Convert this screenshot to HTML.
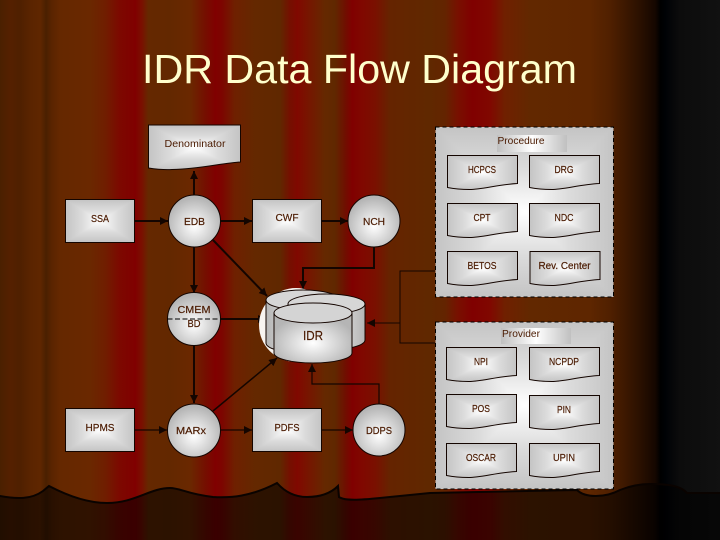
<!DOCTYPE html>
<html><head><meta charset="utf-8"><style>
html,body{margin:0;padding:0;background:#000}
svg{display:block}
text{font-family:"Liberation Sans",sans-serif}
.l{font-size:10.5px;fill:#4a1a00;stroke:#4a1a00;stroke-width:.2;text-anchor:middle}
.c{stroke:#140500;fill:none;stroke-width:2}
.t{stroke:#140500;fill:none;stroke-width:1}
</style></head><body>
<svg width="720" height="540" viewBox="0 0 720 540" xmlns="http://www.w3.org/2000/svg">
<defs>
<linearGradient id="bg" gradientUnits="userSpaceOnUse" x1="0" y1="0" x2="720" y2="0">
<stop offset="0" stop-color="#4a2000"/><stop offset=".014" stop-color="#552000"/><stop offset=".028" stop-color="#4f2000"/><stop offset=".042" stop-color="#5a2400"/>
<stop offset=".056" stop-color="#5f2600"/><stop offset=".064" stop-color="#4a2000"/><stop offset=".072" stop-color="#5a2400"/><stop offset=".083" stop-color="#652800"/>
<stop offset=".125" stop-color="#6a2800"/><stop offset=".146" stop-color="#701e00"/><stop offset=".167" stop-color="#7d0800"/><stop offset=".188" stop-color="#800000"/>
<stop offset=".197" stop-color="#7a1000"/><stop offset=".206" stop-color="#652800"/><stop offset=".236" stop-color="#632800"/><stop offset=".264" stop-color="#6a2800"/>
<stop offset=".285" stop-color="#750f00"/><stop offset=".299" stop-color="#800000"/><stop offset=".308" stop-color="#7d0500"/><stop offset=".326" stop-color="#6f2000"/>
<stop offset=".354" stop-color="#642800"/><stop offset=".389" stop-color="#602800"/><stop offset=".403" stop-color="#750f00"/><stop offset=".413" stop-color="#800800"/>
<stop offset=".424" stop-color="#7a1200"/><stop offset=".451" stop-color="#652800"/><stop offset=".465" stop-color="#602800"/><stop offset=".479" stop-color="#6f1000"/>
<stop offset=".489" stop-color="#800000"/><stop offset=".503" stop-color="#800800"/><stop offset=".521" stop-color="#7a1000"/><stop offset=".542" stop-color="#652400"/>
<stop offset=".597" stop-color="#602800"/><stop offset=".618" stop-color="#632400"/><stop offset=".636" stop-color="#781000"/><stop offset=".656" stop-color="#800000"/>
<stop offset=".681" stop-color="#800800"/><stop offset=".701" stop-color="#702000"/><stop offset=".736" stop-color="#622800"/><stop offset=".819" stop-color="#5e2600"/>
<stop offset=".847" stop-color="#502000"/><stop offset=".889" stop-color="#2a1000"/><stop offset=".91" stop-color="#150700"/><stop offset=".917" stop-color="#000"/>
<stop offset=".924" stop-color="#000205"/><stop offset=".944" stop-color="#0c0c0c"/><stop offset="1" stop-color="#111"/>
</linearGradient>
<linearGradient id="h"><stop offset="0" stop-color="#c0c0c0"/><stop offset=".5" stop-color="#fff"/><stop offset="1" stop-color="#c0c0c0"/></linearGradient>
<linearGradient id="gt" x1="0" y1="0" x2="0" y2="1"><stop offset="0" stop-color="#c4c4c4"/><stop offset=".5" stop-color="#dcdcdc"/><stop offset="1" stop-color="#fff"/></linearGradient>
<linearGradient id="gb" x1="0" y1="1" x2="0" y2="0"><stop offset="0" stop-color="#c4c4c4"/><stop offset=".5" stop-color="#dcdcdc"/><stop offset="1" stop-color="#fff"/></linearGradient>
<linearGradient id="gl" x1="0" y1="0" x2="1" y2="0"><stop offset="0" stop-color="#c4c4c4"/><stop offset=".5" stop-color="#dcdcdc"/><stop offset="1" stop-color="#fff"/></linearGradient>
<linearGradient id="gr" x1="1" y1="0" x2="0" y2="0"><stop offset="0" stop-color="#c4c4c4"/><stop offset=".5" stop-color="#dcdcdc"/><stop offset="1" stop-color="#fff"/></linearGradient>
<linearGradient id="cy"><stop offset="0" stop-color="#b5b5b5"/><stop offset=".5" stop-color="#f4f4f4"/><stop offset="1" stop-color="#b5b5b5"/></linearGradient>
<radialGradient id="cr" cx=".5" cy=".6" r=".55"><stop offset="0" stop-color="#fff"/><stop offset="1" stop-color="#b5b5b5"/></radialGradient>
<marker id="a" markerUnits="userSpaceOnUse" markerWidth="10" markerHeight="10" refX="8" refY="4" orient="auto"><path d="M0,0L8,4L0,8Z" fill="#140500"/></marker>
<symbol id="py" viewBox="0 0 2 2" preserveAspectRatio="none" overflow="visible">
<g shape-rendering="crispEdges"><polygon points="0,0 2,0 1,1" fill="url(#gt)"/><polygon points="0,2 2,2 1,1" fill="url(#gb)"/><polygon points="0,0 0,2 1,1" fill="url(#gl)"/><polygon points="2,0 2,2 1,1" fill="url(#gr)"/></g>
</symbol>
<path id="dp" d="M0,0H70V28C50,29 35,34 22,34C12,34 5,33 0,32Z"/>
<clipPath id="dc"><use href="#dp"/></clipPath>
<g id="doc"><g clip-path="url(#dc)"><use href="#py" width="70" height="34"/></g><use href="#dp" fill="none" stroke="#140500" stroke-width="1"/></g>
<g id="box"><use href="#py" width="69" height="43"/><rect width="69" height="43" fill="none" stroke="#140500" stroke-width="1"/></g>
<path id="dn" d="M148.5,125H240.5V162C222,163 200,169 172,169.5C162,170 155,169 148.5,168Z"/>
<clipPath id="dnc"><use href="#dn"/></clipPath>
</defs>

<rect width="720" height="540" fill="url(#bg)"/>
<path d="M-5,495C18,500 32,499 43,491L49,486C70,497 90,503 107,503C135,503 150,488 170,488C180,488 187,494 213,497C230,498 250,497 277,483C285,492 295,497 307,497C320,497 330,494 338,486L339,497C345,501 360,500 380,498L430,493L577,490C585,498 605,498 620,490C630,486 640,484 650,484C665,484 680,485 687,493L725,493V545H-5Z" fill="#000" fill-opacity=".55" stroke="#0a0300" stroke-width="2"/>

<!-- thin bracket -->
<path class="t" d="M435,271H400V343H435"/>
<path class="t" d="M400,323H367" marker-end="url(#a)"/>

<!-- connectors -->
<path class="c" d="M134,221H168" marker-end="url(#a)"/>
<path class="c" d="M194,195V171" marker-end="url(#a)"/>
<path class="c" d="M221,221H252" marker-end="url(#a)"/>
<path class="c" d="M322,221H348" marker-end="url(#a)"/>
<path class="c" d="M194,247V293" marker-end="url(#a)"/>
<path class="c" d="M213,240L267,296" marker-end="url(#a)"/>
<path class="c" d="M374,247V268H303V289" marker-end="url(#a)"/>
<path class="c" d="M221,319H266" marker-end="url(#a)"/>
<path class="c" d="M194,346V403" marker-end="url(#a)"/>
<path class="t" style="stroke-width:1.5" d="M213,411L277,358" marker-end="url(#a)"/>
<path class="t" style="stroke-width:1.2" d="M134,430H167" marker-end="url(#a)"/>
<path class="t" style="stroke-width:1.2" d="M221,430H252" marker-end="url(#a)"/>
<path class="t" style="stroke-width:1.2" d="M322,430H353" marker-end="url(#a)"/>
<path class="t" style="stroke-width:1.2" d="M379,404V384H312V364" marker-end="url(#a)"/>

<!-- Denominator -->
<g clip-path="url(#dnc)"><use href="#py" x="148.5" y="125" width="92" height="45"/></g>
<use href="#dn" fill="none" stroke="#140500"/>
<text class="l" style="stroke-width:0" x="195" y="147" textLength="61" lengthAdjust="spacingAndGlyphs">Denominator</text>

<!-- boxes -->
<use href="#box" x="65.5" y="199.5"/><text class="l" x="100" y="222" textLength="18" lengthAdjust="spacingAndGlyphs">SSA</text>
<use href="#box" x="252.5" y="199.5"/><text class="l" x="287" y="221" textLength="23" lengthAdjust="spacingAndGlyphs">CWF</text>
<use href="#box" x="65.5" y="408.5"/><text class="l" x="100" y="431" textLength="29" lengthAdjust="spacingAndGlyphs">HPMS</text>
<use href="#box" x="252.5" y="408.5"/><text class="l" x="287" y="431" textLength="25" lengthAdjust="spacingAndGlyphs">PDFS</text>

<!-- circles -->
<circle cx="194.5" cy="221" r="26" fill="url(#cr)" stroke="#140500"/><text class="l" x="194.5" y="225" textLength="21" lengthAdjust="spacingAndGlyphs">EDB</text>
<circle cx="374" cy="221" r="26" fill="url(#cr)" stroke="#140500"/><text class="l" x="374" y="225" textLength="22" lengthAdjust="spacingAndGlyphs">NCH</text>
<circle cx="194" cy="319" r="26.5" fill="url(#cr)" stroke="#140500"/>
<path d="M167.5,319H220.5" stroke="#000" stroke-dasharray="5 2.5" fill="none"/>
<text class="l" x="194" y="313" textLength="33" lengthAdjust="spacingAndGlyphs">CMEM</text><text class="l" x="194" y="327" textLength="13" lengthAdjust="spacingAndGlyphs">BD</text>
<circle cx="194" cy="430.5" r="26.5" fill="url(#cr)" stroke="#140500"/><text class="l" x="191" y="434" textLength="30" lengthAdjust="spacingAndGlyphs">MARx</text>
<circle cx="379" cy="430" r="26" fill="url(#cr)" stroke="#140500"/><text class="l" x="379" y="434" textLength="26" lengthAdjust="spacingAndGlyphs">DDPS</text>

<!-- IDR -->
<circle cx="296" cy="325" r="37" fill="#f8f4f0"/>
<path d="M266,300V343A37,10 0 0 0 340,343V300Z" fill="url(#cy)" stroke="#140500"/>
<ellipse cx="303" cy="300" rx="37" ry="10" fill="#d6d6d6" stroke="#140500"/>
<path d="M288,304V340A38.5,10 0 0 0 365,340V304Z" fill="url(#cy)" stroke="#140500"/>
<ellipse cx="326.5" cy="304" rx="38.5" ry="10" fill="#d6d6d6" stroke="#140500"/>
<path d="M274,313V353A39,10 0 0 0 352,353V313Z" fill="url(#cr)" stroke="#140500"/>
<ellipse cx="313" cy="313" rx="39" ry="10" fill="#d4d4d4" stroke="#140500"/>
<text class="l" style="font-size:13px" x="313" y="340" textLength="20" lengthAdjust="spacingAndGlyphs">IDR</text>

<!-- Procedure panel -->
<use href="#py" x="435.5" y="127" width="178" height="170"/>
<rect x="435.5" y="127" width="178" height="170" fill="none" stroke="#000" stroke-dasharray="4 3"/>
<rect x="497" y="135" width="70" height="17" fill="url(#h)"/>
<text class="l" style="stroke-width:0" x="521" y="144" textLength="47" lengthAdjust="spacingAndGlyphs">Procedure</text>
<use href="#doc" x="447.5" y="155.5"/><text class="l" x="482" y="173" textLength="28" lengthAdjust="spacingAndGlyphs">HCPCS</text>
<use href="#doc" x="529.5" y="155.5"/><text class="l" x="564" y="173" textLength="19" lengthAdjust="spacingAndGlyphs">DRG</text>
<use href="#doc" x="447.5" y="203.5"/><text class="l" x="482" y="221" textLength="17" lengthAdjust="spacingAndGlyphs">CPT</text>
<use href="#doc" x="529.5" y="203.5"/><text class="l" x="564" y="221" textLength="19" lengthAdjust="spacingAndGlyphs">NDC</text>
<use href="#doc" x="447.5" y="251.5"/><text class="l" x="482" y="269" textLength="29" lengthAdjust="spacingAndGlyphs">BETOS</text>
<use href="#doc" x="530" y="251.5"/><text class="l" x="564.5" y="269" textLength="52" lengthAdjust="spacingAndGlyphs">Rev. Center</text>

<!-- Provider panel -->
<use href="#py" x="435.5" y="322" width="178" height="167"/>
<rect x="435.5" y="322" width="178" height="167" fill="none" stroke="#000" stroke-dasharray="4 3"/>
<rect x="501" y="328" width="70" height="16" fill="url(#h)"/>
<text class="l" style="stroke-width:0" x="521" y="337" textLength="38" lengthAdjust="spacingAndGlyphs">Provider</text>
<use href="#doc" x="446.5" y="347.5"/><text class="l" x="481" y="365" textLength="14" lengthAdjust="spacingAndGlyphs">NPI</text>
<use href="#doc" x="529.5" y="347.5"/><text class="l" x="564" y="365" textLength="30" lengthAdjust="spacingAndGlyphs">NCPDP</text>
<use href="#doc" x="446.5" y="394.5"/><text class="l" x="481" y="412" textLength="18" lengthAdjust="spacingAndGlyphs">POS</text>
<use href="#doc" x="529.5" y="395.5"/><text class="l" x="564" y="413" textLength="14" lengthAdjust="spacingAndGlyphs">PIN</text>
<use href="#doc" x="446.5" y="443.5"/><text class="l" x="481" y="461" textLength="30" lengthAdjust="spacingAndGlyphs">OSCAR</text>
<use href="#doc" x="529.5" y="443.5"/><text class="l" x="564" y="461" textLength="22" lengthAdjust="spacingAndGlyphs">UPIN</text>

<text x="142" y="83" font-size="41" fill="#ffffcc" textLength="435" lengthAdjust="spacingAndGlyphs">IDR Data Flow Diagram</text>
</svg>
</body></html>
